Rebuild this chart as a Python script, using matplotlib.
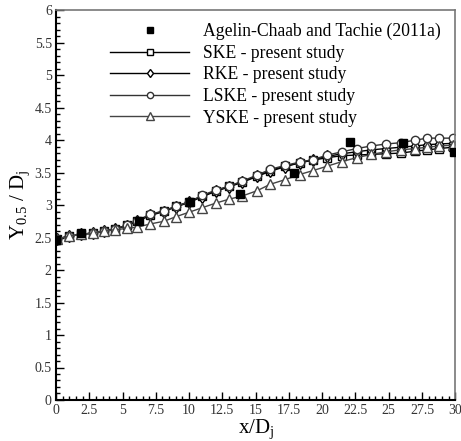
import matplotlib
matplotlib.use("Agg")
import matplotlib.pyplot as plt
from matplotlib.ticker import MultipleLocator, FuncFormatter

plt.rcParams['font.family'] = ['Liberation Serif', 'DejaVu Serif']
plt.rcParams['mathtext.fontset'] = 'custom'
plt.rcParams['mathtext.rm'] = 'Liberation Serif'
plt.rcParams['mathtext.it'] = 'Liberation Serif'

# experiment (Agelin-Chaab and Tachie 2011a)
exp_x = [0.0, 1.9, 6.2, 10.1, 13.8, 17.9, 22.1, 26.1, 29.9]
exp_y = [2.47, 2.57, 2.76, 3.05, 3.17, 3.50, 3.97, 3.95, 3.82]

# simulations
sim_x = [0.1, 1.0, 1.9, 2.8, 3.6, 4.4, 5.3, 6.1, 7.1, 8.1, 9.0, 10.0, 11.0,
         12.0, 13.0, 14.0, 15.1, 16.1, 17.2, 18.3, 19.3, 20.4, 21.5, 22.6,
         23.7, 24.8, 25.9, 27.0, 27.9, 28.8, 29.8]
ske_y = [2.48, 2.52, 2.55, 2.57, 2.60, 2.63, 2.69, 2.76, 2.85, 2.91, 2.98,
         3.05, 3.14, 3.22, 3.29, 3.36, 3.45, 3.53, 3.60, 3.65, 3.69, 3.73,
         3.76, 3.77, 3.78, 3.79, 3.80, 3.83, 3.85, 3.87, 3.89]
rke_y = [2.48, 2.52, 2.55, 2.57, 2.60, 2.63, 2.68, 2.75, 2.84, 2.90, 2.97,
         3.04, 3.13, 3.21, 3.28, 3.35, 3.44, 3.52, 3.59, 3.65, 3.70, 3.75,
         3.79, 3.82, 3.85, 3.87, 3.89, 3.91, 3.93, 3.94, 3.95]
lske_y = [2.48, 2.52, 2.55, 2.57, 2.60, 2.63, 2.69, 2.76, 2.86, 2.91, 2.98,
          3.05, 3.15, 3.23, 3.29, 3.37, 3.46, 3.55, 3.61, 3.66, 3.70, 3.77,
          3.82, 3.87, 3.91, 3.94, 3.96, 4.00, 4.03, 4.03, 4.03]
yske_y = [2.48, 2.52, 2.55, 2.57, 2.60, 2.62, 2.64, 2.66, 2.71, 2.75, 2.82,
          2.89, 2.96, 3.03, 3.09, 3.14, 3.22, 3.32, 3.39, 3.47, 3.53, 3.60,
          3.67, 3.73, 3.78, 3.82, 3.85, 3.87, 3.89, 3.91, 3.92]

fig = plt.figure(figsize=(4.61, 4.41), dpi=100)
ax = fig.add_axes([0.1215, 0.093, 0.866, 0.884])

ms = 6
ax.plot(exp_x, exp_y, 's', color='black', ms=ms, zorder=5,
        label='Agelin-Chaab and Tachie (2011a)')
ax.plot(sim_x, ske_y, '-s', color='black', mfc='white', ms=ms, lw=1,
        label='SKE - present study')
ax.plot(sim_x, rke_y, '-d', color='black', mfc='white', ms=ms, lw=1,
        label='RKE - present study')
ax.plot(sim_x, lske_y, '-o', color='#333333', mfc='white', ms=ms, lw=1,
        label='LSKE - present study')
ax.plot(sim_x, yske_y, '-^', color='#444444', mfc='white', ms=ms + 1, lw=1,
        label='YSKE - present study')

ax.set_xlim(0, 30)
ax.set_ylim(0, 6)
ax.xaxis.set_major_locator(MultipleLocator(2.5))
ax.xaxis.set_minor_locator(MultipleLocator(0.5))
ax.yaxis.set_major_locator(MultipleLocator(0.5))
ax.yaxis.set_minor_locator(MultipleLocator(0.1))
fmt = FuncFormatter(lambda v, p: f'{v:g}')
ax.xaxis.set_major_formatter(fmt)
ax.yaxis.set_major_formatter(fmt)
ax.tick_params(which='both', direction='in', top=False, right=False,
               labelsize=10, pad=3, labelcolor='#333333')
ax.tick_params(which='major', length=6, width=1)
ax.tick_params(which='minor', length=3, width=1)
for side in ['left', 'bottom']:
    ax.spines[side].set_linewidth(1.5)
for side in ['top', 'right']:
    ax.spines[side].set_color('#777777')
    ax.spines[side].set_linewidth(1.2)

ax.set_xlabel(r'x/D$_\mathregular{j}$', fontsize=15, labelpad=0)
ax.set_ylabel(r'Y$_\mathregular{0.5}$ / D$_\mathregular{j}$', fontsize=15,
              labelpad=2)

ax.legend(loc='upper left', bbox_to_anchor=(0.135, 0.967), frameon=False,
          borderpad=0, borderaxespad=0, fontsize=12.7, handlelength=4.5,
          handletextpad=0.75, labelspacing=0.26, markerscale=0.75)

fig.savefig('out.png', dpi=100)
